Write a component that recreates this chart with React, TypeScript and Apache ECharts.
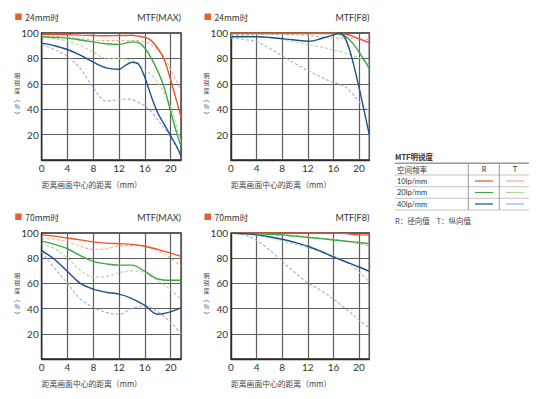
import React, { useEffect, useRef } from "react";
import * as echarts from "echarts";

// ---------- data ----------
const X_24 = [0, 2, 4, 6, 8, 10, 12, 13, 14, 15, 16, 17, 18, 19, 20, 21, 21.6];
const X_70 = [0, 2, 4, 6, 8, 10, 12, 14, 16, 18, 20, 21.6];

// 24mm MTF(MAX)
const R10_24MAX = [99, 99, 98.7, 98.3, 98, 97.8, 98, 98, 98.2, 97.5, 96.5, 94, 88, 79, 63, 45, 34];
const T10_24MAX = [98, 97.5, 96.5, 95.5, 94.5, 94, 94, 94, 94, 94, 93, 91, 87, 81, 71, 61, 55];
const R20_24MAX = [97, 96.5, 96, 94.5, 93, 91.5, 91, 92, 93, 92.5, 88, 80, 70, 57, 38, 20, 11];
const T20_24MAX = [97, 95.5, 93.5, 90, 85, 80, 80, 79.5, 78.5, 76, 71, 67, 61, 53, 42, 25, 14];
const R40_24MAX = [92, 90, 87, 82.5, 77, 72.5, 71.5, 74.5, 77, 75.5, 65, 50, 37, 28, 19, 10, 3];
const T40_24MAX = [91, 87, 81.5, 72, 57, 46.5, 47.5, 48, 47.5, 45.5, 42.5, 38, 31.5, 25, 17.5, 9, 4];

// 24mm MTF(F8)
const R10_24F8 = [100, 100, 100, 100, 100, 100, 100, 100, 100, 100, 100, 99.8, 99, 97.5, 95.5, 93.5, 92.5];
const T10_24F8 = [99, 99, 99, 99, 98.5, 98.5, 98, 97.5, 97, 96.5, 96, 96, 96, 96, 95.5, 95, 95];
const R20_24F8 = [99.5, 99.5, 99.5, 99.5, 99.5, 99.5, 99.5, 99.5, 99.5, 99.5, 99.5, 99, 97, 92, 85, 77, 72];
const T20_24F8 = [98, 98, 97.5, 96.5, 95, 93, 91, 90, 89, 88, 86.5, 85.5, 84, 82.5, 80.5, 77, 74];
const R40_24F8 = [97, 97, 97, 96.5, 95.5, 94.5, 93.5, 94, 95.5, 97, 98.5, 100, 94, 78, 57, 34, 20];
const T40_24F8 = [96, 95, 93, 88, 82, 76, 70.5, 68, 65.5, 63, 61, 59.5, 57, 52, 46, 41, 39];

// 70mm MTF(MAX)
const R10_70MAX = [98.5, 97.5, 96, 94.5, 93, 92, 91.5, 91, 89.5, 87, 84, 81.5];
const T10_70MAX = [96, 95, 93, 89.5, 87, 87.5, 89.5, 90, 89.5, 86, 80, 73.5];
const R20_70MAX = [93.5, 91, 87.5, 82, 77.5, 75.5, 74.5, 74.5, 69.5, 63.5, 62.5, 62.5];
const T20_70MAX = [91, 87.5, 80, 70.5, 65, 65.5, 68.5, 70, 68.5, 62, 55, 47];
const R40_70MAX = [86, 79, 69.5, 60, 55.5, 53, 51.5, 48, 42.5, 35.5, 37.5, 40.5];
const T40_70MAX = [85, 72, 60, 47.5, 41, 37, 35.5, 40, 42, 37.5, 29, 20];

// 70mm MTF(F8)
const R10_70F8 = [100, 100, 100, 100, 100, 100, 100, 100, 100, 99.5, 98.5, 98.5];
const T10_70F8 = [100, 99.5, 99.5, 99, 98.5, 98, 97, 96, 95, 93.5, 91.5, 89.5];
const R20_70F8 = [100, 99.5, 99.5, 99, 98.5, 97.5, 96.5, 95.5, 94.5, 93.5, 92.5, 91.5];
const T20_70F8 = [100, 99.5, 98, 96, 93.5, 91, 88.5, 85.5, 82, 77, 69, 61];
const R40_70F8 = [100, 99.5, 98.5, 97, 95, 92.5, 89.5, 85.5, 81, 77, 73, 69.5];
const T40_70F8 = [100, 98.5, 94, 86.5, 77.5, 68.5, 60.5, 54.5, 47.5, 39.5, 31, 24.5];

const X_TICKS = [0, 4, 8, 12, 16, 20];
const Y_TICKS = [20, 40, 60, 80, 100];
const X_MAX = 21.6;

const PANEL_FOCAL = ["24mm时", "24mm时", "70mm时", "70mm时"];
const PANEL_MODE = ["MTF(MAX)", "MTF(F8)", "MTF(MAX)", "MTF(F8)"];
const FREQS = ["10lp/mm", "20lp/mm", "40lp/mm"];
const Y_NAME_CHARS = ["明", "锐", "度", "︵", "%", "︶"];
const X_NAME = "距离画面中心的距离（mm）";

// ---------- styling ----------
const C_R = ["#e8552a", "#3fa844", "#1e4f8f"];
const C_T = ["#f3ab90", "#a9d79c", "#9ab0dc"];
const ORANGE = "#e8602c";
const CJK = '"Noto Sans CJK SC", sans-serif';
const NUM = 'Lato, "Noto Sans", sans-serif';

const PANELS = [
  { x: X_24, r: [R10_24MAX, R20_24MAX, R40_24MAX], t: [T10_24MAX, T20_24MAX, T40_24MAX] },
  { x: X_24, r: [R10_24F8, R20_24F8, R40_24F8], t: [T10_24F8, T20_24F8, T40_24F8] },
  { x: X_70, r: [R10_70MAX, R20_70MAX, R40_70MAX], t: [T10_70MAX, T20_70MAX, T40_70MAX] },
  { x: X_70, r: [R10_70F8, R20_70F8, R40_70F8], t: [T10_70F8, T20_70F8, T40_70F8] },
];

const GRIDS = [
  { left: 41.7, top: 33, width: 139.3, height: 127 },
  { left: 231, top: 33, width: 138.3, height: 127 },
  { left: 41.7, top: 233, width: 139.3, height: 126 },
  { left: 231, top: 233, width: 138.3, height: 126 },
];

function buildOption() {
  const grid = GRIDS.map((g) => ({
    ...g,
    show: true,
    borderColor: "#2a2a2a",
    borderWidth: 1.3,
    backgroundColor: "transparent",
  }));
  const xAxis = GRIDS.map((_, i) => ({
    type: "value",
    gridIndex: i,
    min: 0,
    max: X_MAX,
    interval: 4,
    axisLine: { show: true, lineStyle: { color: "#2a2a2a", width: 1.3 } },
    axisTick: { show: false },
    splitLine: { show: true, lineStyle: { color: "#5e5e5e", width: 1.2 } },
    axisLabel: {
      margin: 2.5,
      fontSize: 10,
      color: "#333",
      fontFamily: NUM,
      formatter: (v: number) => (X_TICKS.includes(v) ? String(v) : ""),
    },
  }));
  const yAxis = GRIDS.map((_, i) => ({
    type: "value",
    gridIndex: i,
    min: 0,
    max: 100,
    interval: 20,
    axisLine: { show: true, lineStyle: { color: "#2a2a2a", width: 1.3 } },
    axisTick: { show: false },
    splitLine: { show: true, lineStyle: { color: "#5e5e5e", width: 1.2 } },
    axisLabel: {
      margin: 3,
      fontSize: 10,
      color: "#333",
      fontFamily: NUM,
      formatter: (v: number) => (Y_TICKS.includes(v) ? String(v) : ""),
    },
  }));

  const series: any[] = [];
  PANELS.forEach((p, i) => {
    [0, 1, 2].forEach((k) => {
      series.push({
        type: "line",
        name: "T " + FREQS[k],
        xAxisIndex: i,
        yAxisIndex: i,
        data: p.x.map((x, j) => [x, p.t[k][j]]),
        smooth: 0.35,
        showSymbol: false,
        lineStyle: { color: C_T[k], width: 1.1, type: [3, 2] },
        z: 2,
      });
    });
    [0, 1, 2].forEach((k) => {
      series.push({
        type: "line",
        name: "R " + FREQS[k],
        xAxisIndex: i,
        yAxisIndex: i,
        data: p.x.map((x, j) => [x, p.r[k][j]]),
        smooth: 0.35,
        showSymbol: false,
        lineStyle: { color: C_R[k], width: 1.4 },
        z: 3 + k,
      });
    });
  });

  const graphic: any[] = [];
  const txt = (text: string, x: number, y: number, opts: any = {}) => ({
    type: "text",
    x,
    y,
    silent: true,
    style: {
      text,
      fill: opts.fill || "#333",
      fontSize: opts.fontSize || 8,
      fontFamily: opts.fontFamily || CJK,
      fontWeight: opts.fontWeight || "normal",
      align: opts.align || "left",
      verticalAlign: opts.verticalAlign || "middle",
      textAlign: opts.align || "left",
      textVerticalAlign: opts.verticalAlign || "middle",
    },
  });

  GRIDS.forEach((g, i) => {
    const ty = g.top - 16;
    const sqX = g.left - 26.5;
    graphic.push({
      type: "rect",
      silent: true,
      shape: { x: sqX, y: ty - 3.5, width: 6.5, height: 6.5 },
      style: { fill: ORANGE },
    });
    graphic.push(txt(PANEL_FOCAL[i], sqX + 10, ty, { fontSize: 8.5 }));
    graphic.push(txt(PANEL_MODE[i], g.left + g.width, ty, { align: "right", fontSize: 9, fontFamily: NUM }));
    // y axis name: stacked characters
    Y_NAME_CHARS.forEach((ch, c) => {
      graphic.push(
        txt(ch, g.left - 24.5, g.top + 42 + c * 7.8, {
          fontSize: 6,
          align: "center",
          fill: "#444",
        })
      );
    });
    // x axis name
    graphic.push(txt(X_NAME, g.left, g.top + g.height + 24, { fontSize: 7.8, fill: "#444" }));
  });

  // legend table
  const L = 395, R = 529;
  const rowLines = [175, 186.7, 198.3, 210];
  const top = 163.3;
  graphic.push(txt("MTF明锐度", L, 156, { fontSize: 7.5, fill: "#333", fontWeight: "bold" }));
  graphic.push({ type: "line", silent: true, shape: { x1: L, y1: top, x2: R, y2: top }, style: { stroke: "#9a9a9a", lineWidth: 1.5 } });
  rowLines.forEach((y) =>
    graphic.push({ type: "line", silent: true, shape: { x1: L, y1: y, x2: R, y2: y }, style: { stroke: "#c4c4c4", lineWidth: 1 } })
  );
  [468.3, 499.3].forEach((x) =>
    graphic.push({ type: "line", silent: true, shape: { x1: x, y1: top, x2: x, y2: 210 }, style: { stroke: "#9a9a9a", lineWidth: 1 } })
  );
  graphic.push(txt("空间频率", L + 2, 169, { fontSize: 7.5 }));
  graphic.push(txt("R", 484, 169, { fontSize: 7.5, align: "center", fontFamily: NUM }));
  graphic.push(txt("T", 515, 169, { fontSize: 7.5, align: "center", fontFamily: NUM }));
  const rowY = [181, 192.5, 204];
  FREQS.forEach((f, k) => {
    graphic.push(txt(f, L + 2, rowY[k], { fontSize: 7.5, fontFamily: NUM }));
    graphic.push({ type: "line", silent: true, shape: { x1: 475, y1: rowY[k], x2: 493, y2: rowY[k] }, style: { stroke: C_R[k], lineWidth: 1.2 } });
    graphic.push({ type: "line", silent: true, shape: { x1: 506, y1: rowY[k], x2: 524, y2: rowY[k] }, style: { stroke: C_T[k], lineWidth: 1.2 } });
  });
  graphic.push(txt("R：径向值    T：纵向值", L, 220, { fontSize: 7.5, fill: "#444" }));

  return {
    animation: false,
    backgroundColor: "#ffffff",
    grid,
    xAxis,
    yAxis,
    series,
    graphic,
  };
}

export default function App() {
  const ref = useRef<HTMLDivElement>(null);
  useEffect(() => {
    if (!ref.current) return;
    const chart = echarts.init(ref.current, null, { renderer: "svg" });
    chart.setOption(buildOption() as any);
    return () => chart.dispose();
  }, []);
  return (
    <div
      ref={ref}
      style={{ position: "absolute", left: 0, top: 0, width: 540, height: 399, background: "#fff" }}
    />
  );
}
